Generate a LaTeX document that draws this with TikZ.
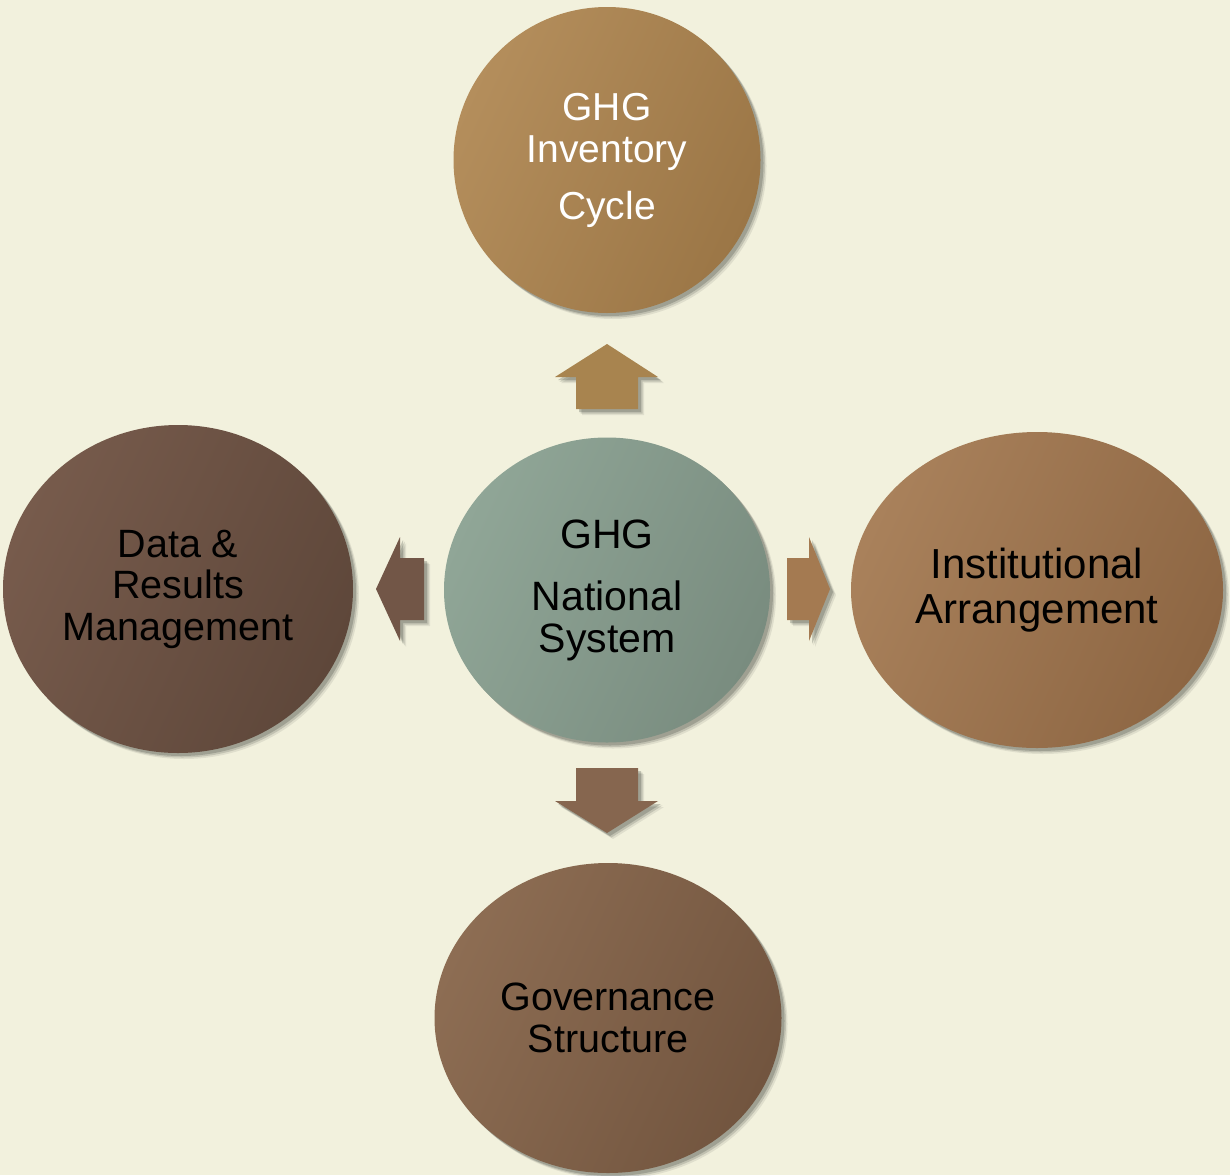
\documentclass[tikz,border=0pt]{standalone}
\usepackage{fontspec}
\setmainfont{Liberation Sans}
\usetikzlibrary{shapes.geometric,shadows}
\definecolor{bg}{HTML}{F2F1DD}
\definecolor{invL}{HTML}{B48E5C}
\definecolor{invD}{HTML}{9B7646}
\definecolor{natL}{HTML}{90A697}
\definecolor{natD}{HTML}{798C7F}
\definecolor{datL}{HTML}{775B4C}
\definecolor{datD}{HTML}{5E473A}
\definecolor{insL}{HTML}{A9815B}
\definecolor{insD}{HTML}{8D6643}
\definecolor{govL}{HTML}{8D6D53}
\definecolor{govD}{HTML}{72553F}
\definecolor{arrUp}{HTML}{A8844F}
\definecolor{arrLeft}{HTML}{725647}
\definecolor{arrRight}{HTML}{A47A51}
\definecolor{arrDown}{HTML}{86664F}
\definecolor{shade}{HTML}{3A4038}
\begin{document}
\begin{tikzpicture}[x=1pt,y=-1pt,
  softshadow/.style={
    drop shadow={shadow xshift=6pt,shadow yshift=-6pt,opacity=.10,fill=shade},
    drop shadow={shadow xshift=4.5pt,shadow yshift=-4.5pt,opacity=.18,fill=shade},
    drop shadow={shadow xshift=3pt,shadow yshift=-3pt,opacity=.25,fill=shade}},
  bubble/.style={ellipse, inner sep=0pt, align=center, softshadow},
  blockarrow/.style={softshadow}]
\fill[bg] (0,0) rectangle (1230,1175);
\useasboundingbox (0,0) rectangle (1230,1175);

% circles
\node[bubble, minimum width=307pt, minimum height=306pt,
  top color=invL, bottom color=invD, shading angle=65, text=white,
  font=\fontsize{39}{42}\selectfont] (inv) at (607,160) {GHG\\Inventory\\[15pt]Cycle};

\node[bubble, minimum width=326pt, minimum height=305pt,
  top color=natL, bottom color=natD, shading angle=65, text=black,
  font=\fontsize{41}{42}\selectfont] (nat) at (607,590) {GHG\\[20pt]National\\System};

\node[bubble, minimum width=350pt, minimum height=328pt,
  top color=datL, bottom color=datD, shading angle=65, text=black,
  font=\fontsize{39.5}{41.5}\selectfont] (dat) at (178,589) {Data \&\\Results\\Management};

\node[bubble, minimum width=372pt, minimum height=316pt,
  top color=insL, bottom color=insD, shading angle=65, text=black,
  font=\fontsize{42}{45}\selectfont] (ins) at (1037,590) {Institutional\\Arrangement};

\node[bubble, minimum width=347pt, minimum height=310pt,
  top color=govL, bottom color=govD, shading angle=65, text=black,
  font=\fontsize{39.5}{42}\selectfont] (gov) at (608,1018) {Governance\\Structure};

% block arrows
\fill[blockarrow, arrUp] (607,344) -- (658,377) -- (638,377) -- (638,409)
  -- (576,409) -- (576,377) -- (555,377) -- cycle;
\fill[blockarrow, arrDown] (576,768) -- (638,768) -- (638,801) -- (658,801)
  -- (607,833) -- (555,801) -- (576,801) -- cycle;
\fill[blockarrow, arrLeft] (376,589) -- (400,537) -- (400,558) -- (424,558)
  -- (424,620) -- (400,620) -- (400,641) -- cycle;
\fill[blockarrow, arrRight] (830,589) -- (809,641) -- (809,620) -- (787,620)
  -- (787,558) -- (809,558) -- (809,537) -- cycle;
\end{tikzpicture}
\end{document}
